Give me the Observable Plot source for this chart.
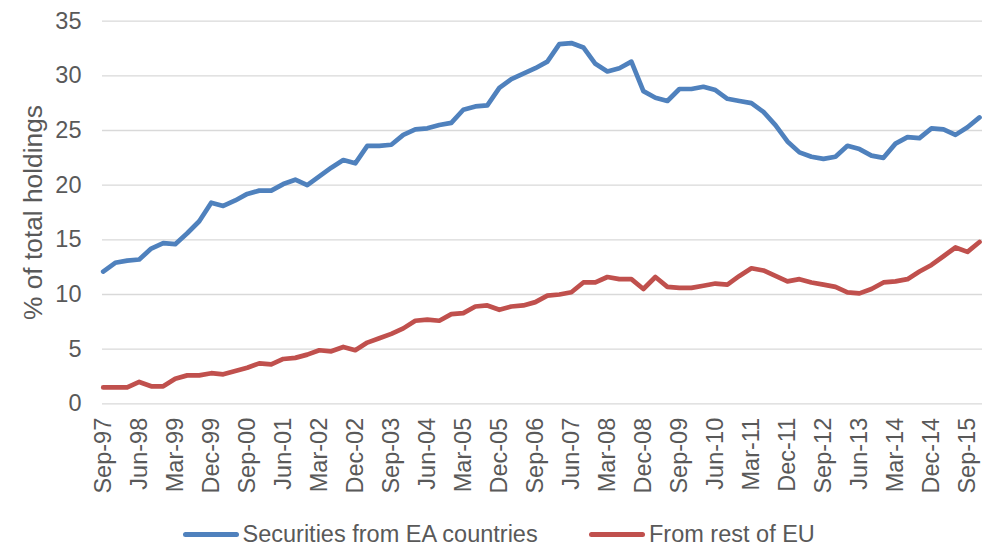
<!DOCTYPE html>
<html>
<head>
<meta charset="utf-8">
<script src="https://cdn.jsdelivr.net/npm/d3@7"></script>
<script src="https://cdn.jsdelivr.net/npm/@observablehq/plot@0.6"></script>
<style>
  html, body { margin: 0; padding: 0; background: #fff; }
  body { font-family: "Liberation Sans", Arial, sans-serif; }
  #wrap { position: relative; width: 993px; height: 546px; }
  .leg { position: absolute; top: 519px; height: 30px; display: flex; align-items: center; font-size: 23.5px; color: #595959; white-space: nowrap; }
  .sw { display: inline-block; width: 56px; height: 5px; border-radius: 3px; margin-right: 4px; }
</style>
</head>
<body>
<div id="wrap"></div>
<script>
const quarters = [
  "Sep-97","Dec-97","Mar-98","Jun-98","Sep-98","Dec-98","Mar-99","Jun-99","Sep-99","Dec-99",
  "Mar-00","Jun-00","Sep-00","Dec-00","Mar-01","Jun-01","Sep-01","Dec-01","Mar-02","Jun-02",
  "Sep-02","Dec-02","Mar-03","Jun-03","Sep-03","Dec-03","Mar-04","Jun-04","Sep-04","Dec-04",
  "Mar-05","Jun-05","Sep-05","Dec-05","Mar-06","Jun-06","Sep-06","Dec-06","Mar-07","Jun-07",
  "Sep-07","Dec-07","Mar-08","Jun-08","Sep-08","Dec-08","Mar-09","Jun-09","Sep-09","Dec-09",
  "Mar-10","Jun-10","Sep-10","Dec-10","Mar-11","Jun-11","Sep-11","Dec-11","Mar-12","Jun-12",
  "Sep-12","Dec-12","Mar-13","Jun-13","Sep-13","Dec-13","Mar-14","Jun-14","Sep-14","Dec-14",
  "Mar-15","Jun-15","Sep-15","Dec-15"
];
const tickLabels = ["Sep-97","Jun-98","Mar-99","Dec-99","Sep-00","Jun-01","Mar-02","Dec-02","Sep-03",
  "Jun-04","Mar-05","Dec-05","Sep-06","Jun-07","Mar-08","Dec-08","Sep-09","Jun-10","Mar-11",
  "Dec-11","Sep-12","Jun-13","Mar-14","Dec-14","Sep-15"];
const eaSecurities = [
  12.1,12.9,13.1,13.2,14.2,14.7,14.6,15.6,16.7,18.4,
  18.1,18.6,19.2,19.5,19.5,20.1,20.5,20.0,20.8,21.6,
  22.3,22.0,23.6,23.6,23.7,24.6,25.1,25.2,25.5,25.7,
  26.9,27.2,27.3,28.9,29.7,30.2,30.7,31.3,32.9,33.0,
  32.6,31.1,30.4,30.7,31.3,28.6,28.0,27.7,28.8,28.8,
  29.0,28.7,27.9,27.7,27.5,26.7,25.5,24.0,23.0,22.6,
  22.4,22.6,23.6,23.3,22.7,22.5,23.8,24.4,24.3,25.2,
  25.1,24.6,25.3,26.2
];
const restOfEU = [
  1.5,1.5,1.5,2.0,1.6,1.6,2.3,2.6,2.6,2.8,
  2.7,3.0,3.3,3.7,3.6,4.1,4.2,4.5,4.9,4.8,
  5.2,4.9,5.6,6.0,6.4,6.9,7.6,7.7,7.6,8.2,
  8.3,8.9,9.0,8.6,8.9,9.0,9.3,9.9,10.0,10.2,
  11.1,11.1,11.6,11.4,11.4,10.5,11.6,10.7,10.6,10.6,
  10.8,11.0,10.9,11.7,12.4,12.2,11.7,11.2,11.4,11.1,
  10.9,10.7,10.2,10.1,10.5,11.1,11.2,11.4,12.1,12.7,
  13.5,14.3,13.9,14.8
];
const yTicks = [0, 5, 10, 15, 20, 25, 30, 35];
const yTitle = "% of total holdings";
const seriesNames = ["Securities from EA countries", "From rest of EU"];
const seriesColors = ["#4F81BD", "#C0504D"];

const rows = [];
quarters.forEach((q, i) => {
  rows.push({i, q, v: eaSecurities[i], s: seriesNames[0]});
  rows.push({i, q, v: restOfEU[i], s: seriesNames[1]});
});
const tickIdx = tickLabels.map(l => quarters.indexOf(l));

const chart = Plot.plot({
  width: 993,
  height: 506,
  marginLeft: 102,
  marginRight: 11,
  insetRight: 3,
  insetLeft: 0.7,
  marginTop: 20.7,
  marginBottom: 102.7,
  style: { fontFamily: '"Liberation Sans", Arial, sans-serif', fontSize: "23.5px", color: "#595959", background: "#fff" },
  x: { domain: [0, quarters.length - 1] },
  y: { domain: [0, 35] },
  color: { domain: seriesNames, range: seriesColors },
  marks: [
    Plot.ruleY(yTicks, { stroke: "#D9D9D9", strokeWidth: 1.3 }),
    Plot.axisY({ ticks: yTicks, tickSize: 0, tickPadding: 21, fontSize: 23.5, label: null }),
    Plot.text([yTitle], { frameAnchor: "left", dx: -69, rotate: -90, fontSize: 26.3, fill: "#595959", textAnchor: "middle", lineAnchor: "middle" }),
    Plot.axisX({ ticks: tickIdx, tickFormat: i => quarters[i], tickSize: 0, tickPadding: 14, tickRotate: -90, fontSize: 23.5, label: null }),
    Plot.line(rows, { x: "i", y: "v", z: "s", stroke: "s", strokeWidth: 4.7, strokeLinejoin: "round", strokeLinecap: "round" })
  ]
});
const wrap = document.getElementById("wrap");
wrap.appendChild(chart);

const legendPos = [182.5, 589];
seriesNames.forEach((n, k) => {
  const d = document.createElement("div");
  d.className = "leg";
  d.style.left = legendPos[k] + "px";
  d.innerHTML = `<span class="sw" style="background:${seriesColors[k]}"></span><span>${n}</span>`;
  wrap.appendChild(d);
});
</script>
</body>
</html>
